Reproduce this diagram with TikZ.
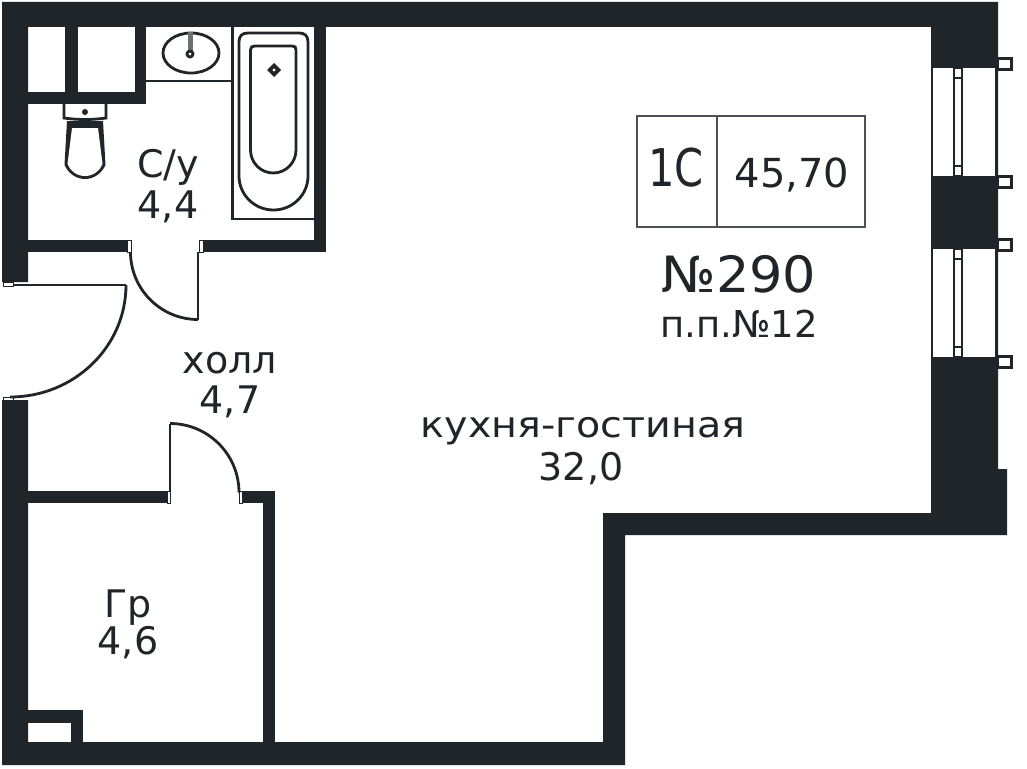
\documentclass[tikz,border=0pt]{standalone}
\usepackage{fontspec}
\setmainfont{DejaVu Sans}
\definecolor{wallc}{HTML}{1F2528}
\newcommand{\fs}[1]{\fontsize{#1}{#1}\selectfont}
\tikzset{
 wall/.style={fill=wallc,draw=none},
 thin line/.style={draw=wallc,line width=2pt},
 med line/.style={draw=wallc,line width=2.8pt},
 jamb/.style={fill=white,draw=wallc,line width=1pt},
 tab/.style={fill=white,draw=wallc,line width=3.2pt},
 lab/.style={anchor=base,text=wallc,inner sep=0pt,outer sep=0pt},
}
\begin{document}
\begin{tikzpicture}[x=1pt,y=-1pt]
\useasboundingbox (0,0) rectangle (1027,768);
\fill[white] (0,0) rectangle (1027,768);
% outer walls
\fill[wall] (2,2) -- (998,2) -- (998,469) -- (1007,469) -- (1007,535) -- (625,535) -- (625,765) -- (2,765) -- (2,400) -- (28,400) -- (28,742) -- (603,742) -- (603,513) -- (931,513) -- (931,27) -- (28,27) -- (28,282) -- (2,282) -- cycle;
% shafts
\fill[wall] (65,27) rectangle (78,92);
\fill[wall] (28,92) rectangle (146,104);
\fill[wall] (135,27) rectangle (146,104);
% bathroom walls
\fill[wall] (314,27) rectangle (326,252);
\fill[wall] (28,240) rectangle (128,252);
\fill[wall] (203,240) rectangle (326,252);
% storeroom walls
\fill[wall] (28,491) rectangle (167,503);
\fill[wall] (242,491) rectangle (275,503);
\fill[wall] (263,491) rectangle (275,742);
\fill[wall] (28,710) rectangle (83,723);
\fill[wall] (71,710) rectangle (83,742);
% door jambs
\draw[jamb] (127.5,240) rectangle (131,252);
\draw[jamb] (199.5,240) rectangle (203,252);
\draw[jamb] (167,491) rectangle (170,503);
\draw[jamb] (239,491) rectangle (242,503);
\draw[jamb] (3,282) rectangle (13,286);
\draw[jamb] (3,397) rectangle (13,400);
% door leaves
\draw[med line] (198,252) -- (198,319.5);
\draw[med line] (130.5,252) arc[start angle=180,end angle=90,radius=67.5];
\draw[med line] (170,491) -- (170,423.5);
\draw[med line] (170,423.5) arc[start angle=270,end angle=360,radius=69];
\draw[med line] (13,285) -- (126,285);
\draw[med line] (126,285) arc[start angle=0,end angle=90,x radius=116,y radius=112];
% washbasin counter
\draw[thin line] (146,81) -- (232,81);
\draw[med line] (232.5,27) -- (232.5,219) -- (314,219);
\draw[med line] (191,53) ellipse[x radius=28,y radius=20];
\fill[wallc!65!white] (187.5,32) rectangle (192.5,52);
\draw[med line,fill=white] (190,54) circle[radius=3];
% bath
\draw[med line] (239,42) .. controls (239,36) and (242,33) .. (248,33) -- (299,33) .. controls (305,33) and (308,36) .. (308,42) -- (308,176) arc[start angle=0,end angle=180,x radius=34.5,y radius=34] -- cycle;
\draw[med line] (250.5,50) .. controls (250.5,47) and (252,46) .. (255,46) -- (292,46) .. controls (295,46) and (296,47) .. (296,50) -- (296,150) arc[start angle=0,end angle=180,x radius=22.75,y radius=23] -- cycle;
\fill[wallc] (274,63) -- (281,70) -- (274,77) -- (267,70) -- cycle;
\fill[white] (274,70) circle[radius=1.6];
% toilet
\draw[med line] (64,104) -- (64,118) .. controls (78,120) and (92,120) .. (106,118) -- (106,104);
\fill[wallc] (85,112) circle[radius=3];
\fill[wallc] (67,121) -- (103,121) -- (105.5,165) .. controls (102,173) and (94,179) .. (85,179) .. controls (76,179) and (68,173) .. (64.5,165) -- cycle;
\fill[white] (72,128) -- (98,128) -- (102.5,164) .. controls (100,171) and (93,176) .. (85,176) .. controls (77,176) and (70,171) .. (67.5,164) -- cycle;
% windows
\foreach \a/\b in {68/176,249/357}{
  \fill[white] (932,\a) rectangle (996,\b);
  \draw[med line] (932,\a-1) -- (932,\b+1);
  \draw[med line] (996.5,\a-1) -- (996.5,\b+1);
  \draw[med line,fill=white] (954,\a) rectangle (962,\b);
  \draw[thin line] (954,\a+10) -- (962,\a+10);
  \draw[thin line] (954,\b-10) -- (962,\b-10);
  \draw[line width=1.6pt,draw=wallc] (932,\a-0.5) -- (996,\a-0.5);
  \draw[line width=1.6pt,draw=wallc] (932,\b+0.5) -- (996,\b+0.5);
}
% wall tabs
\foreach \y in {57,175,238,355}{
  \draw[tab] (997,\y+1.5) rectangle (1011.5,\y+12.5);
}
% legend box
\draw[line width=1.5pt,draw=wallc!80!white] (637,116) rectangle (865,227);
\draw[line width=1.5pt,draw=wallc!80!white] (717,116) -- (717,227);
% labels
\node[lab] (t1c) at (676,186) {\fs{52}\scalebox{0.8}[1]{1С}};
\node[lab] (tarea) at (792,187) {\fs{40}45,70};
\node[lab] (tnum) at (739,292) {\fs{50}\scalebox{1.05}[1]{№290}};
\node[lab] (tpp) at (739,337) {\fs{37}п.п.№12};
\node[lab] (tsu) at (168,177) {\fs{38}С/у};
\node[lab] (tsua) at (168,218) {\fs{38}4,4};
\node[lab] (thl) at (230,373) {\fs{38}холл};
\node[lab] (thla) at (230,413) {\fs{38}4,7};
\node[lab] (tku) at (583,437) {\fs{36}\scalebox{1.1}[1]{кухня-гостиная}};
\node[lab] (tkua) at (581,480) {\fs{38}32,0};
\node[lab] (tgr) at (128,617) {\fs{38}Гр};
\node[lab] (tgra) at (128,654) {\fs{38}4,6};
\end{tikzpicture}
\end{document}
